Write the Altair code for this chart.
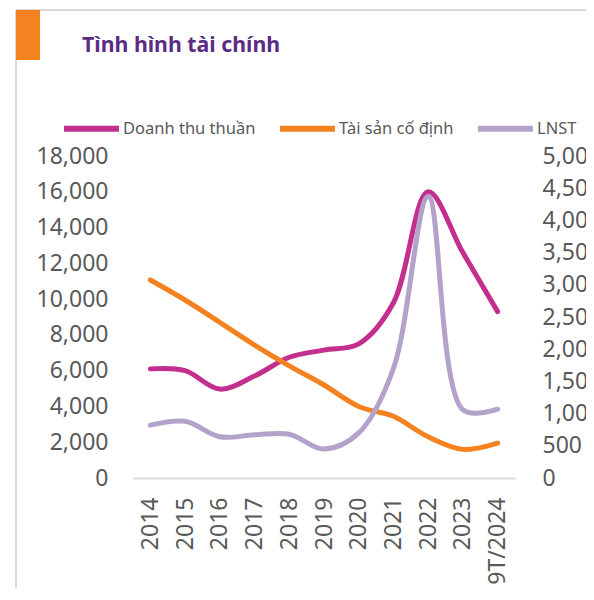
import altair as alt
import pandas as pd

years = ["2014", "2015", "2016", "2017", "2018", "2019", "2020", "2021", "2022", "2023", "9T/2024"]
doanh_thu = [6100, 6000, 4970, 5700, 6750, 7150, 7500, 9800, 16000, 12600, 9300]
tai_san = [11070, 9950, 8700, 7430, 6270, 5200, 4000, 3450, 2300, 1600, 1950]
lnst = [820, 880, 640, 670, 680, 450, 700, 1700, 4370, 1060, 1070]

series_names = ["Doanh thu thuần", "Tài sản cố định", "LNST"]
series_colors = ["#C22F8F", "#F58220", "#B3A2C9"]
left_ticks = list(range(0, 18001, 2000))
right_ticks = list(range(0, 5001, 500))

FONT = "Noto Sans"
GRAY = "#595959"

left_rows = []
for y, a, b in zip(years, doanh_thu, tai_san):
    left_rows.append({"year": y, "series": series_names[0], "value": a})
    left_rows.append({"year": y, "series": series_names[1], "value": b})
df_left = pd.DataFrame(left_rows)
df_right = pd.DataFrame({"year": years, "series": series_names[2], "value": lnst})

color = alt.Color(
    "series:N",
    scale=alt.Scale(domain=series_names, range=series_colors),
    sort=series_names,
    legend=alt.Legend(
        title=None, orient="none", direction="horizontal",
        legendX=-72, legendY=-58,
        symbolType="stroke", symbolSize=3025, symbolStrokeWidth=6,
        labelFont=FONT, labelFontSize=16.5, labelColor=GRAY,
        labelOffset=1, columnPadding=12,
    ),
)

xenc = alt.X(
    "year:N", sort=years,
    scale=alt.Scale(type="point", padding=0.5),
    axis=alt.Axis(
        title=None, labelAngle=270, labelPadding=19, ticks=False,
        domain=True, domainColor="#D9D9D9", domainWidth=2,
        labelFont=FONT, labelFontSize=23, labelColor=GRAY, grid=False,
    ),
)

left = alt.Chart(df_left).mark_line(
    interpolate="catmull-rom", strokeWidth=5, strokeCap="round", strokeJoin="round"
).encode(
    x=xenc,
    y=alt.Y(
        "value:Q", scale=alt.Scale(domain=[0, 18000], nice=False),
        axis=alt.Axis(
            orient="left", title=None, values=left_ticks, format=",.0f",
            ticks=False, domain=False, grid=False, labelPadding=25,
            labelFont=FONT, labelFontSize=23, labelColor=GRAY,
        ),
    ),
    color=color,
    detail="series:N",
)

right = alt.Chart(df_right).mark_line(
    interpolate="catmull-rom", strokeWidth=5, strokeCap="round", strokeJoin="round"
).encode(
    x=xenc,
    y=alt.Y(
        "value:Q", scale=alt.Scale(domain=[0, 5000], nice=False),
        axis=alt.Axis(
            orient="right", title=None, values=right_ticks, format=",.0f",
            ticks=False, domain=False, grid=False, labelPadding=27,
            labelFont=FONT, labelFontSize=23, labelColor=GRAY,
        ),
    ),
    color=color,
)

dummy = pd.DataFrame({"k": [0]})
frame_top = alt.Chart(dummy).mark_rule(color="#D9D9D9", strokeWidth=2).encode(
    x=alt.value(-117), x2=alt.value(470), y=alt.value(-146)
)
frame_left = alt.Chart(dummy).mark_rule(color="#D9D9D9", strokeWidth=2).encode(
    x=alt.value(-117), y=alt.value(-146), y2=alt.value(440)
)
orange_box = alt.Chart(dummy).mark_rect(color="#F58220").encode(
    x=alt.value(-117), x2=alt.value(-93), y=alt.value(-146), y2=alt.value(-96)
)
title = alt.Chart(dummy).mark_text(
    text="Tình hình tài chính", font=FONT, fontSize=21.3, fontWeight="bold",
    color="#5B2C86", align="left", baseline="alphabetic"
).encode(x=alt.value(-51), y=alt.value(-104))

chart = alt.layer(
    frame_top, frame_left, orange_box, title, left, right
).resolve_scale(y="independent").properties(
    width=382, height=322,
    autosize=alt.AutoSizeParams(type="none"),
    padding={"left": 125, "top": 148, "right": 71, "bottom": 110},
).configure_view(stroke=None)

chart.save("out.html", embed_options={"renderer": "svg", "actions": False})
